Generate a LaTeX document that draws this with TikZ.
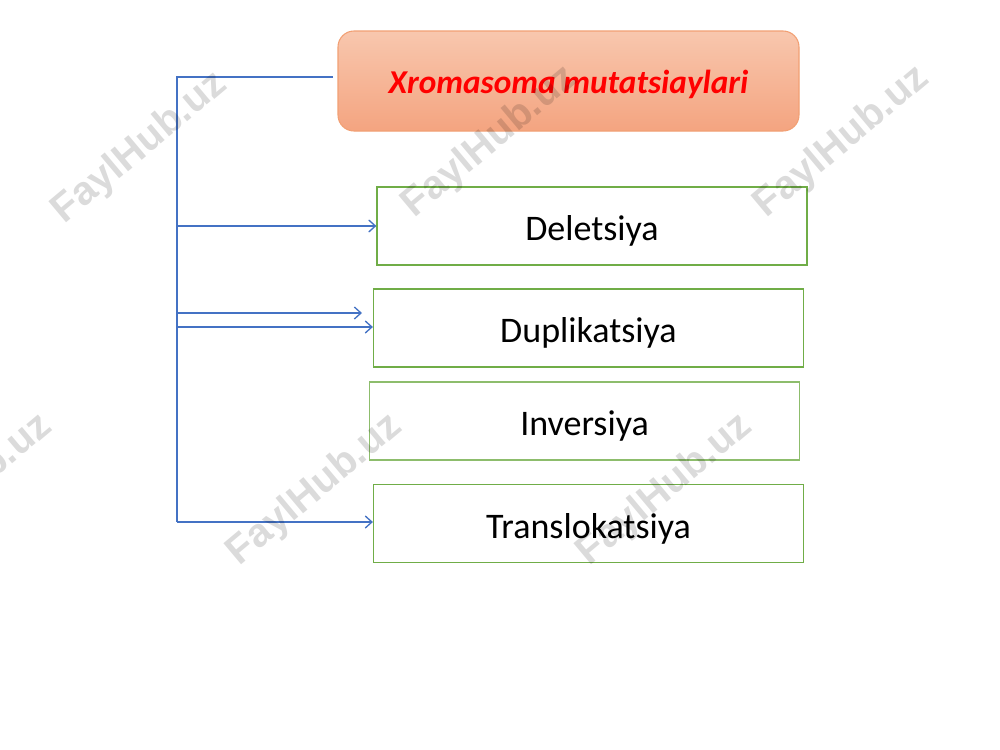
\documentclass[tikz,border=0pt]{standalone}
\usepackage{fontspec}
\setmainfont{Carlito}
\newfontfamily\wmfont{Liberation Sans}
\usetikzlibrary{arrows.meta}
\definecolor{lineblue}{HTML}{4472C4}
\definecolor{boxgreen}{HTML}{70AD47}
\definecolor{titletop}{HTML}{F8C7AE}
\definecolor{titlebot}{HTML}{F4A480}
\definecolor{titleborder}{HTML}{F2A074}
\tikzset{
  itembox/.style={draw=boxgreen, line width=0.9pt, minimum width=430*0.75pt, minimum height=78*0.75pt, font=\fontsize{27}{30}\selectfont, inner sep=0pt, text height=26pt, text depth=4pt},
  titlebox/.style={draw=titleborder, line width=0.8pt, rounded corners=12pt, top color=titletop, bottom color=titlebot, minimum width=461*0.75pt, minimum height=100*0.75pt, font=\fontsize{25}{30}\selectfont\bfseries\itshape, text=red, inner sep=0pt, text height=24pt, text depth=5pt},
  conn/.style={draw=lineblue, line width=1.1pt},
  arr/.style={conn, -{Straight Barb[length=5pt,width=9pt,line width=1pt]}},
  wm/.style={font=\wmfont\bfseries\fontsize{30}{30}\selectfont, text=black, text opacity=0.14, rotate=40, inner sep=0pt}
}
\begin{document}
\begin{tikzpicture}[x=0.75pt,y=-0.75pt]
\clip (0,0) rectangle (1000,750);
\fill[white] (0,0) rectangle (1000,750);
% boxes
\node[titlebox] (title) at (568.5,81) {Xromasoma mutatsiaylari};
\node[itembox] (del) at (592,226) {Deletsiya};
\node[itembox] (dup) at (588.5,328) {Duplikatsiya};
\node[itembox, draw=boxgreen!80] (inv) at (584.5,421) {Inversiya};
\node[itembox] (tra) at (588.5,523.5) {Translokatsiya};
% connectors
\coordinate (top) at (177,77);
\coordinate (bot) at (177,522);
\coordinate (tend) at (333,77);
\draw[conn] (tend) -- (top) -- (bot);
\draw[arr] (177,226) -- (del.west |- 0,226);
\draw[arr] (177,313) -- (362,313);
\draw[arr] (177,327) -- (dup.west |- 0,327);
\draw[arr] (bot) -- (tra.west |- bot);
% watermarks
\node[wm] (w1) at (140,148) {FaylHub.uz};
\node[wm] (w2) at (490,142) {FaylHub.uz};
\node[wm] (w3) at (842,142) {FaylHub.uz};
\node[wm] (w4) at (-35,490) {FaylHub.uz};
\node[wm] (w5) at (315,490) {FaylHub.uz};
\node[wm] (w6) at (665,490) {FaylHub.uz};
\end{tikzpicture}
\end{document}
